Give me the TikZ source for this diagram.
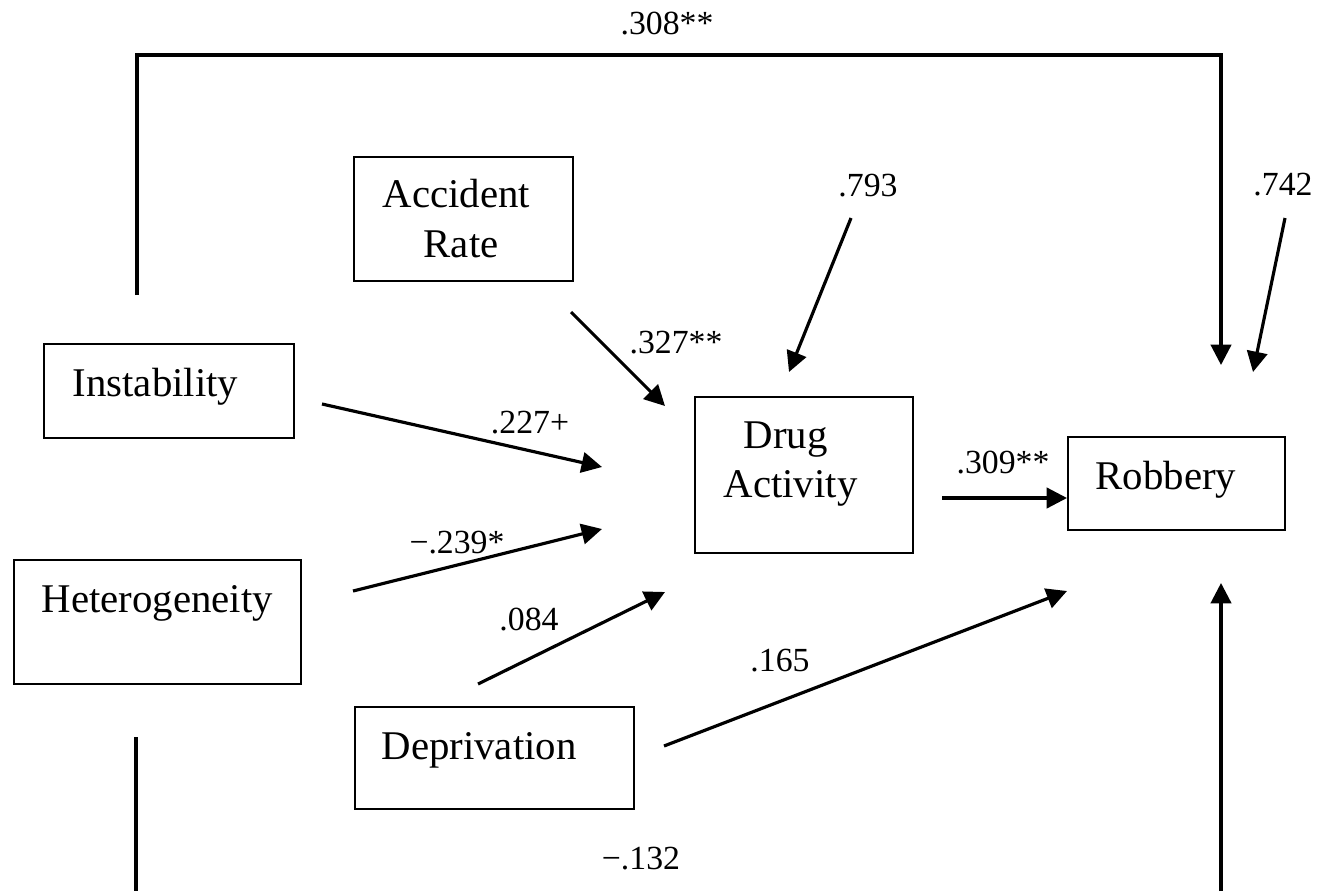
\documentclass[tikz,border=0pt]{standalone}
\usepackage{fontspec}
\setmainfont{Liberation Serif}
\usetikzlibrary{arrows.meta}

\begin{document}
\begin{tikzpicture}[x=0.01cm, y=-0.01cm, >={Triangle[length=5.8pt,width=5.8pt]}, line join=miter,
  box/.style={draw, line width=0.6pt, inner sep=0pt, anchor=north west},
  vartext/.style={anchor=base west, inner sep=0pt, font=\fontsize{11.6}{14}\selectfont},
  coef/.style={inner sep=0pt, font=\fontsize{9.6}{12}\selectfont},
  link/.style={line width=0.9pt}]

\useasboundingbox (0,0) rectangle (1331,891);

% Riquadri
\node[box, minimum width=2.19cm, minimum height=1.24cm] (accident) at (353,156) {};
\node[box, minimum width=2.50cm, minimum height=0.94cm] (inst) at (43,343) {};
\node[box, minimum width=2.87cm, minimum height=1.24cm] (hetero) at (13,559) {};
\node[box, minimum width=2.79cm, minimum height=1.02cm] (depriv) at (354,706) {};
\node[box, minimum width=2.18cm, minimum height=1.56cm] (drug) at (694,396) {};
\node[box, minimum width=2.17cm, minimum height=0.93cm] (robbery) at (1067,436) {};

% Testi
\node[vartext] (accident-a) at (382,208) {Accident};
\node[vartext] (accident-b) at (423,257) {Rate};
\node[vartext] (inst-a) at (72,396) {Instability};
\node[vartext] (hetero-a) at (41,612) {Heterogeneity};
\node[vartext] (depriv-a) at (381,759) {Deprivation};
\node[vartext] (drug-a) at (743,448) {Drug};
\node[vartext] (drug-b) at (723,497) {Activity};
\node[vartext] (robbery-a) at (1095,489) {Robbery};

% Estremi delle frecce
\coordinate (top-start) at (137,295);
\coordinate (top-bend) at (137,55);
\coordinate (top-end) at (1221,365);
\coordinate (err-rob-start) at (1285,218);
\coordinate (err-rob-end) at (1253,372);
\coordinate (err-drug-start) at (851,218);
\coordinate (err-drug-end) at (789,372);
\coordinate (acc-start) at (571,312);
\coordinate (acc-end) at (665,406);
\coordinate (inst-start) at (322,404);
\coordinate (inst-end) at (602,467);
\coordinate (het-start) at (353,591);
\coordinate (het-end) at (602,529);
\coordinate (dep-start) at (478,684);
\coordinate (dep-end) at (665,592);
\coordinate (dep2-start) at (664,746);
\coordinate (dep2-end) at (1067,591);
\coordinate (drug-start) at (942,498);
\coordinate (drug-end) at (1067,498);
\coordinate (bot-left-top) at (136,737);
\coordinate (bot-left-bot) at (136,891);
\coordinate (bot-right-bot) at (1221,891);
\coordinate (bot-right-end) at (1221,583);

% Frecce
\draw[link, ->] (top-start) -- (top-bend) -| (top-end);
\draw[link, ->] (err-rob-start) -- (err-rob-end);
\draw[link, ->] (err-drug-start) -- (err-drug-end);
\draw[link, ->] (acc-start) -- (acc-end);
\draw[link, ->] (inst-start) -- (inst-end);
\draw[link, ->] (het-start) -- (het-end);
\draw[link, ->] (dep-start) -- (dep-end);
\draw[link, ->] (dep2-start) -- (dep2-end);
\draw[link, ->] (drug-start) -- (drug-end);
\draw[link] (bot-left-top) -- (bot-left-bot);
\draw[link, ->] (bot-right-bot) -- (bot-right-end);

% Coefficienti
\node[coef] (c-top) at (667,24) {.308**};
\node[coef] (c-err-drug) at (868,186) {.793};
\node[coef] (c-err-rob) at (1283,185) {.742};
\node[coef] (c-acc) at (676,343) {.327**};
\node[coef] (c-inst) at (530,423) {.227+};
\node[coef] (c-het) at (457,543) {−.239*};
\node[coef] (c-dep) at (529,620) {.084};
\node[coef] (c-dep2) at (780,661) {.165};
\node[coef] (c-drug) at (1003,463) {.309**};
\node[coef] (c-bot) at (641,859) {−.132};

\end{tikzpicture}
\end{document}
